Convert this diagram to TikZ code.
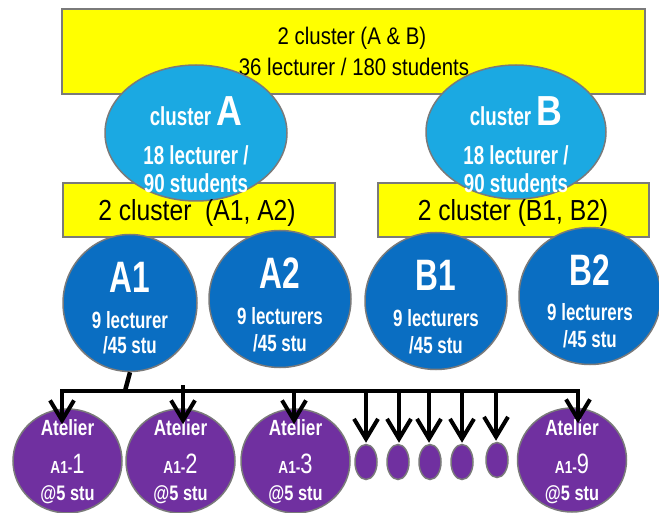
\documentclass[tikz,border=0pt]{standalone}
\usepackage{fontspec}
\setmainfont{Liberation Sans}[FakeStretch=0.85]
\newfontfamily\nar{Liberation Sans}[FakeStretch=0.72]
\newfontfamily\narb{Liberation Sans}[FakeStretch=0.78]
\usetikzlibrary{shapes.geometric,arrows.meta,calc}
\definecolor{ylw}{HTML}{FFFF00}
\definecolor{lblue}{HTML}{1BA9E2}
\definecolor{dblue}{HTML}{0A6EC2}
\definecolor{purp}{HTML}{7030A0}
\definecolor{edge}{HTML}{7A7A7A}
\newcommand\fz[1]{\fontsize{#1}{#1}\selectfont}
\tikzset{
  ybox/.style={rectangle,draw=edge,line width=1.5pt,fill=ylw,inner sep=0pt},
  clust/.style={ellipse,draw=edge,line width=1.5pt,fill=lblue,inner sep=0pt},
  sub/.style={ellipse,draw=edge,line width=1.5pt,fill=dblue,inner sep=0pt,minimum width=142pt,minimum height=137pt},
  atel/.style={ellipse,draw=edge,line width=1.5pt,fill=purp,inner sep=0pt,minimum width=109pt,minimum height=104pt},
  dot/.style={ellipse,draw=edge,line width=1.5pt,fill=purp,inner sep=0pt,minimum width=22pt,minimum height=35pt},
  btxt/.style={text=black,inner sep=0pt},
  wtxt/.style={text=white,inner sep=0pt,font=\nar\bfseries},
  ptxt/.style={text=white,inner sep=0pt,font=\narb\bfseries},
  bus/.style={line width=4.5pt,draw=black},
  arr/.style={line width=4pt,draw=black,-{Straight Barb[length=20pt,width=24pt]}},
}
\begin{document}
\begin{tikzpicture}[x=1pt,y=-1pt]
\useasboundingbox (0,0) rectangle (659,513);
% top box
\node[ybox,minimum width=583pt,minimum height=85pt] (top) at (353.5,51.5) {};
\node[btxt] (top1) at (352,38) {\fz{24}2 cluster (A \& B)};
\node[btxt] (top2) at (354,67) {\fz{24}36 lecturer / 180 students};
% sub boxes
\node[ybox,minimum width=272pt,minimum height=54pt] (boxA) at (199,210) {};
\node[ybox,minimum width=271pt,minimum height=54pt] (boxB) at (513.5,210) {};
% clusters
\node[clust,minimum width=182pt,minimum height=136pt] (cA) at (196,133) {};
\node[clust,minimum width=180pt,minimum height=134pt] (cB) at (516,132) {};
\node[wtxt,anchor=base] (cAt) at (196,126) {\fz{26}cluster \fz{42}\rmfamily\bfseries A};
\node[wtxt] (cAl) at (196,155) {\fz{26}18 lecturer /};
\node[wtxt] (cAs) at (196,183) {\fz{26}90 students};
\node[wtxt,anchor=base] (cBt) at (516,126) {\fz{26}cluster \fz{42}\rmfamily\bfseries B};
\node[wtxt] (cBl) at (516,155) {\fz{26}18 lecturer /};
\node[wtxt] (cBs) at (516,183) {\fz{26}90 students};
\node[btxt] (boxAt) at (197,213) {\fz{29}2 cluster\ \ (A1, A2)};
\node[btxt] (boxBt) at (513,213) {\fz{29}2 cluster (B1, B2)};
% second row
\node[sub,minimum width=134pt] (A1) at (130,303) {};
\node[sub] (A2) at (280,299) {};
\node[sub] (B1) at (436,301) {};
\node[sub] (B2) at (590,296) {};
\node[wtxt] (A1n) at (130,277) {\fz{44}A1};
\node[wtxt] (A1l) at (130,320) {\fz{23.5}9 lecturer};
\node[wtxt] (A1s) at (130,345) {\fz{23.5}/45 stu};
\node[wtxt] (A2n) at (280,273) {\fz{44}A2};
\node[wtxt] (A2l) at (280,316) {\fz{23.5}9 lecturers};
\node[wtxt] (A2s) at (280,343) {\fz{23.5}/45 stu};
\node[wtxt] (B1n) at (436,275) {\fz{44}B1};
\node[wtxt] (B1l) at (436,318) {\fz{23.5}9 lecturers};
\node[wtxt] (B1s) at (436,345) {\fz{23.5}/45 stu};
\node[wtxt] (B2n) at (590,270) {\fz{44}B2};
\node[wtxt] (B2l) at (590,312) {\fz{23.5}9 lecturers};
\node[wtxt] (B2s) at (590,339) {\fz{23.5}/45 stu};
% ateliers
\node[atel] (at1) at (67.5,461) {};
\node[atel] (at2) at (180.5,461) {};
\node[atel] (at3) at (295.5,461) {};
\node[dot] (d1) at (366,462) {};
\node[dot] (d2) at (398,462) {};
\node[dot] (d3) at (430,462) {};
\node[dot] (d4) at (462,462) {};
\node[dot] (d5) at (497,460) {};
\node[atel] (at9) at (572,460) {};
\foreach \n/\x/\d in {at1/67.5/1,at2/180.5/2,at3/295.5/3,at9/572/9}{
  \node[ptxt] (\n a) at (\x,428) {\fz{22}Atelier};
  \node[ptxt,anchor=base] (\n b) at (\x,473) {\fz{17.5}A1-\fz{28}\mdseries\d};
  \node[ptxt] (\n c) at (\x,495) {\fz{21}@5 stu};
}
% connectors
\coordinate (stem) at (125,391);
\coordinate (j1) at (62,391);
\coordinate (j2) at (183,385);
\coordinate (j3) at (294,391);
\coordinate (j4) at (366,391);
\coordinate (j5) at (399,391);
\coordinate (j6) at (429,391);
\coordinate (j7) at (462,391);
\coordinate (j8) at (496,391);
\coordinate (j9) at (578,391);
\draw[bus] (A1.south) -- (stem);
\draw[bus] (j1) -- (j9);
\draw[arr] (stem) -| ($(j1 |- at1.north)+(0,16)$);
\draw[arr] (stem) -| ($(j9 |- at9.north)+(0,16)$);
\draw[arr] (j2) -- ($(j2 |- at2.north)+(0,16)$);
\draw[arr] (j3) -- ($(j3 |- at3.north)+(0,16)$);
\draw[arr] (j4) -- ($(j4 |- d1.north)+(0,-1)$);
\draw[arr] (j5) -- ($(j5 |- d2.north)+(0,-1)$);
\draw[arr] (j6) -- ($(j6 |- d3.north)+(0,-1)$);
\draw[arr] (j7) -- ($(j7 |- d4.north)+(0,-1)$);
\draw[arr] (j8) -- ($(j8 |- d5.north)+(0,-1)$);
\end{tikzpicture}
\end{document}
